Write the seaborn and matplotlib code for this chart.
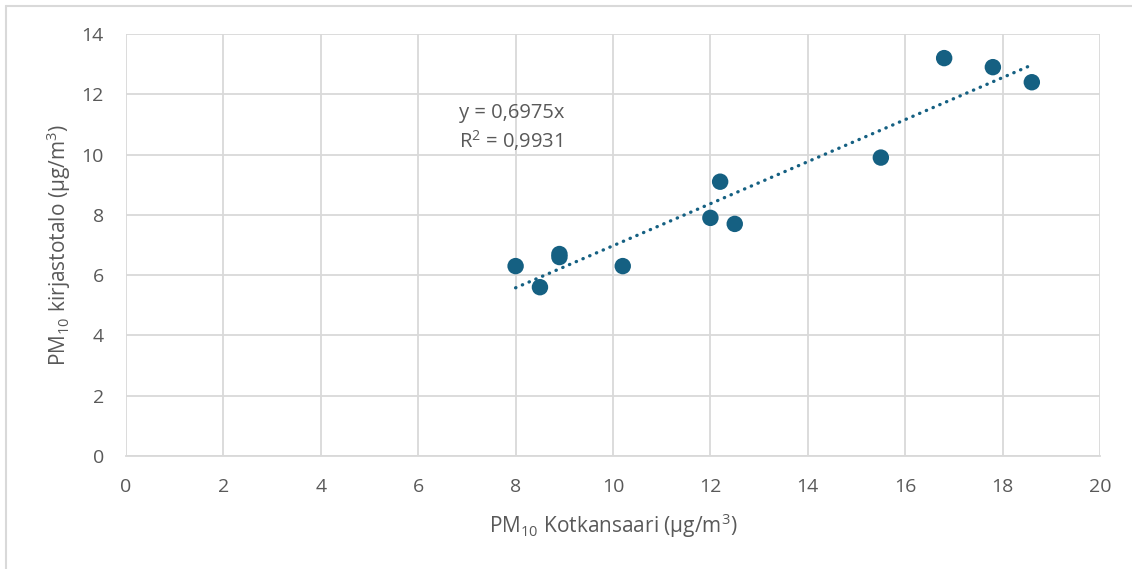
import matplotlib
matplotlib.use("Agg")
import matplotlib.pyplot as plt
import seaborn as sns
import pandas as pd
import numpy as np
from matplotlib.lines import Line2D

# Data
kotkansaari = [8.0, 8.5, 8.9, 8.9, 10.2, 12.0, 12.2, 12.5, 15.5, 16.8, 17.8, 18.6]
kirjastotalo = [6.3, 5.6, 6.7, 6.6, 6.3, 7.9, 9.1, 7.7, 9.9, 13.2, 12.9, 12.4]
slope = 0.6975
r2 = 0.9931
x_ticks = [0, 2, 4, 6, 8, 10, 12, 14, 16, 18, 20]
y_ticks = [0, 2, 4, 6, 8, 10, 12, 14]

sns.set_theme(style="white")
plt.rcParams['font.family'] = ['Open Sans', 'DejaVu Sans']
plt.rcParams['mathtext.fontset'] = 'custom'
plt.rcParams['mathtext.rm'] = 'Open Sans'
plt.rcParams['mathtext.it'] = 'Open Sans'

df = pd.DataFrame({"x": kotkansaari, "y": kirjastotalo})

fig = plt.figure(figsize=(11.32, 5.69), dpi=100)
ax = fig.add_axes([126/1132, 1-456/569, (1100-126)/1132, (456-34)/569])

color = "#156082"
grid = "#d9d9d9"
txt = "#595959"

ax.set_xlim(0, 20)
ax.set_ylim(0, 14)
ax.set_xticks(x_ticks)
ax.set_yticks(y_ticks)
ax.grid(True, color=grid, linewidth=1.3)
ax.set_axisbelow(True)
for s in ["top", "right", "left"]:
    ax.spines[s].set_visible(False)
ax.spines["bottom"].set_color(grid)
ax.spines["bottom"].set_linewidth(1.3)
ax.tick_params(axis="both", length=0, labelsize=14, colors=txt)
ax.tick_params(axis="x", pad=16)
ax.tick_params(axis="y", pad=16)

xs = np.array([min(kotkansaari), max(kotkansaari)])
ax.plot(xs, slope * xs, linestyle=(0, (0.1, 2.1)), color=color, linewidth=2.4,
        dash_capstyle="round", zorder=2)

sns.scatterplot(data=df, x="x", y="y", ax=ax, s=140, color=color,
                edgecolor="none", zorder=3, legend=False)

ax.set_xlabel(r"PM$_{10}$ Kotkansaari (µg/m$^3$)", fontsize=15, color=txt, labelpad=11)
ax.set_ylabel(r"PM$_{10}$ kirjastotalo (µg/m$^3$)", fontsize=15, color=txt, labelpad=6)

ax.text(6.84, 11.38, f"y = {str(slope).replace('.', ',')}x", fontsize=14.5,
        color=txt, va="center", ha="left")
ax.text(6.84, 10.45, "R$^2$ = " + str(r2).replace('.', ','), fontsize=14.5,
        color=txt, va="center", ha="left")

# outer border
W, H = 1132, 569
fig.add_artist(Line2D([6/W, 6/W], [0, 1-6/H], color=grid, linewidth=1.5))
fig.add_artist(Line2D([6/W, 1], [1-6/H, 1-6/H], color=grid, linewidth=1.5))

fig.savefig("out.png", dpi=100)
